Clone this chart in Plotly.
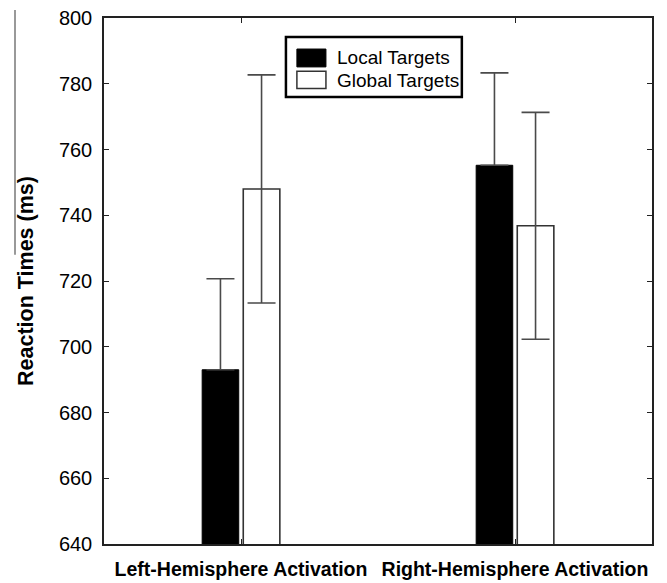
import plotly.graph_objects as go

categories = ["Left-Hemisphere Activation", "Right-Hemisphere Activation"]
series_names = ["Local Targets", "Global Targets"]
local_rt = [693.0, 755.2]
global_rt = [748.0, 736.8]
local_err = [27.7, 28.1]
global_err = [34.7, 34.5]
y_ticks = [640, 660, 680, 700, 720, 740, 760, 780, 800]

FONT = "Arial, Liberation Sans, Helvetica, sans-serif"
ERR_COLOR = "#4a4a4a"

fig = go.Figure()
fig.add_trace(go.Bar(
    x=categories, y=local_rt, name=series_names[0],
    marker=dict(color="black", line=dict(color="black", width=1)),
    error_y=dict(type="data", array=local_err, arrayminus=[0] * len(local_err),
                 symmetric=False, color=ERR_COLOR, thickness=1.6, width=14),
    showlegend=False,
))
fig.add_trace(go.Bar(
    x=categories, y=global_rt, name=series_names[1],
    marker=dict(color="white", line=dict(color="#333333", width=1.6)),
    error_y=dict(type="data", array=global_err, color=ERR_COLOR,
                 thickness=1.6, width=14),
    showlegend=False,
))

# custom legend (large swatches like the original)
shapes = [
    dict(type="rect", xref="paper", yref="paper", x0=0.332, x1=0.653, y0=0.850, y1=0.964,
         line=dict(color="black", width=2.5), fillcolor="white", layer="above"),
    dict(type="rect", xref="paper", yref="paper", x0=0.352, x1=0.405, y0=0.907, y1=0.941,
         line=dict(color="black", width=1), fillcolor="black", layer="above"),
    dict(type="rect", xref="paper", yref="paper", x0=0.352, x1=0.405, y0=0.866, y1=0.899,
         line=dict(color="#333333", width=1.5), fillcolor="white", layer="above"),
    # faint scan border line at the far left
    dict(type="line", xref="paper", yref="paper", x0=-0.1624, x1=-0.1624, y0=1.015, y1=0.55,
         line=dict(color="#555555", width=1.2)),
]
annotations = [
    dict(text=series_names[0], xref="paper", yref="paper", x=0.4215, y=0.924,
         xanchor="left", yanchor="middle", showarrow=False,
         font=dict(family=FONT, size=19, color="black")),
    dict(text=series_names[1], xref="paper", yref="paper", x=0.4215, y=0.882,
         xanchor="left", yanchor="middle", showarrow=False,
         font=dict(family=FONT, size=19, color="black")),
]

fig.update_layout(
    width=659, height=576,
    margin=dict(l=96, r=15, t=10, b=40),
    paper_bgcolor="white", plot_bgcolor="white",
    barmode="group", bargap=0.70, bargroupgap=0.11,
    font=dict(family=FONT, color="black"),
    shapes=shapes, annotations=annotations,
)
fig.update_xaxes(
    tickmode="array", tickvals=categories,
    ticktext=["<b>%s</b>" % c for c in categories],
    tickfont=dict(family=FONT, size=19.5, color="black"),
    showline=True, linecolor="#222222", linewidth=1.5, mirror="ticks",
    ticks="inside", ticklen=5, tickcolor="#222222", tickwidth=1.2,
    showgrid=False, zeroline=False, ticklabelstandoff=7, automargin=False,
    ticklabeloverflow="allow",
)
fig.update_yaxes(
    range=[640, 800], tickmode="array", tickvals=y_ticks,
    tickfont=dict(family=FONT, size=20, color="black"),
    title=dict(text="<b>Reaction Times (ms)</b>", standoff=19,
               font=dict(family=FONT, size=21.5, color="black")),
    showline=True, linecolor="#222222", linewidth=1.5, mirror="ticks",
    ticks="inside", ticklen=5, tickcolor="#222222", tickwidth=1.2,
    showgrid=False, zeroline=False, ticklabelstandoff=6, automargin=False,
    ticklabeloverflow="allow",
)

fig.write_html("out.html")
